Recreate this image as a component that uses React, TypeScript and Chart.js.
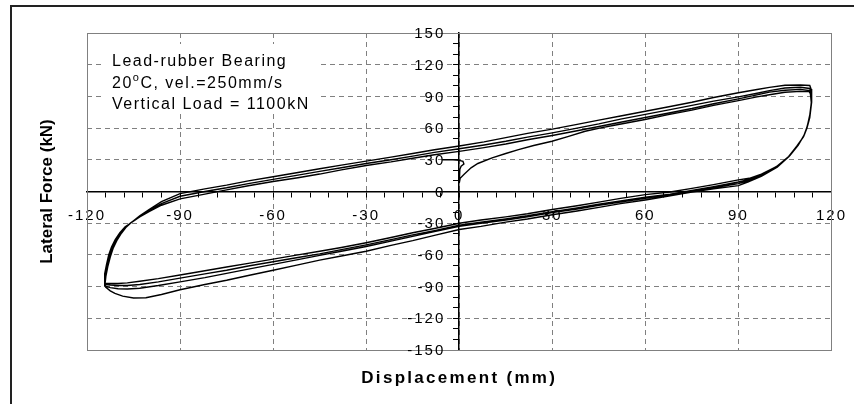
import React, { useEffect, useRef } from 'react';
import { Chart, registerables } from 'chart.js';

Chart.register(...registerables);

// ---------- Text ----------
const xAxisTitle = 'Displacement (mm)';
const yAxisTitle = 'Lateral Force (kN)';
const noteLine1 = 'Lead-rubber Bearing';
const noteLine2a = '20';
const noteLine2sup = 'o';
const noteLine2b = 'C, vel.=250mm/s';
const noteLine3 = 'Vertical Load = 1100kN';

// ---------- Axes ----------
const xMin = -120;
const xMax = 120;
const xMajor = 30;
const xMinor = 6;
const yMin = -150;
const yMax = 150;
const yMajor = 30;
const yMinor = 10;

// ---------- Data: [displacement mm, lateral force kN] ----------
const initialLoading: [number, number][] = [
  [-5.5, 30], [-2, 30], [0, 29.5], [1.2, 28.5], [1.5, 26], [0.6, 24], [0.2, 21], [0, 17], [0, 11], [0, 8],
  [0.3, 12.5], [1.5, 16], [3.8, 22.4], [6, 26.5], [10.6, 31.9], [15, 36], [19.1, 39.7], [24, 43.5],
  [29.9, 47.6], [35, 52], [40.6, 57], [46, 60.5], [51.3, 63.4], [59.9, 68.1], [67, 72.5], [75, 77],
  [82, 81.5], [90, 86], [96, 89.5], [100, 91.5], [105, 93.9], [110, 94.8], [112.8, 94.5],
];

const lower1: [number, number][] = [
  [113.2, 92.5], [113.5, 84], [112.9, 70], [112, 60], [111, 52], [109, 43], [106.3, 33], [102.5, 23],
  [97.5, 14.5], [93, 9], [90, 5.5], [82, 2.5], [75, -0.5], [68, -4], [60, -8], [52, -11.5], [45, -15],
  [38, -18.5], [30, -22], [22, -26], [15, -29], [7, -33], [0, -36], [-8, -41.5], [-15, -46.5], [-22, -51],
  [-30, -56.5], [-38, -61], [-45, -65], [-52, -69.5], [-60, -74.5], [-68, -79.5], [-75, -84], [-82, -88],
  [-90, -93], [-96, -97.5], [-101, -100.5], [-105, -100.8], [-108.5, -99], [-111, -96.5], [-112.5, -94],
  [-114, -90.5],
];

const upper1: [number, number][] = [
  [-114.2, -88], [-113.9, -80], [-113.3, -71], [-112.5, -62], [-111.6, -54], [-110.4, -46.5], [-108.9, -39.5],
  [-107.3, -33.5], [-105.8, -29.5], [-103, -23], [-100, -17], [-96, -9.5], [-90, -2], [-82, 2.5], [-75, 6],
  [-68, 10], [-60, 14], [-52, 18], [-45, 21.5], [-38, 25], [-30, 28.7], [-22, 32.5], [-15, 36], [-8, 39.5],
  [0, 43], [8, 47], [15, 51], [22, 55], [30, 59], [38, 63.5], [45, 67.5], [52, 71.5], [60, 76], [68, 80.5],
  [75, 84.5], [82, 89], [90, 93.4], [96, 96.5], [100, 98.5], [105, 100.6], [110, 100.8], [113, 100.3],
];

const lower2: [number, number][] = [
  [113.4, 97], [113.6, 88], [113.2, 75], [112.3, 63], [111.3, 54], [109.3, 44], [106.6, 34], [102.8, 24.2],
  [97.8, 15.8], [93.5, 10.5], [90, 7.5], [82, 3.5], [75, 0.5], [68, -3], [60, -6.5], [52, -10], [45, -13],
  [38, -16.5], [30, -20], [22, -24], [15, -27], [7, -30], [0, -33], [-8, -38], [-15, -42.5], [-22, -47],
  [-30, -52], [-38, -56.5], [-45, -60.5], [-52, -64.5], [-60, -69], [-68, -73.5], [-75, -77.5], [-82, -81.5],
  [-90, -85.5], [-97, -89], [-103, -91.5], [-107, -92.3], [-110, -92], [-112.5, -91], [-114.2, -89.5],
];

const upper2: [number, number][] = [
  [-114.3, -87.5], [-114, -79], [-113.5, -70], [-112.8, -61], [-111.9, -53], [-110.7, -46], [-109.2, -39.5],
  [-107.5, -33.5], [-105.9, -29.7], [-103, -23.5], [-100, -18], [-96, -11.5], [-90, -4.5], [-82, 0], [-75, 3.5],
  [-68, 7.5], [-60, 11.5], [-52, 15.5], [-45, 19], [-38, 22.5], [-30, 26.5], [-22, 30], [-15, 33.5], [-8, 37],
  [0, 40.5], [8, 44], [15, 47.5], [22, 51.5], [30, 55.5], [38, 60], [45, 64], [52, 68.5], [60, 73], [68, 77.5],
  [75, 81.5], [82, 85.5], [90, 89.6], [96, 93], [100, 95.5], [105, 98], [110, 98.6], [113, 97.5],
];

const lower3: [number, number][] = [
  [113.4, 94.5], [113.6, 84.5], [113, 70], [112.1, 60], [111.1, 52.5], [109, 43.2], [106.4, 33.6], [102.6, 24.3],
  [97.6, 16], [93.5, 11.5], [90, 9], [82, 4.5], [75, 1], [68, -2.5], [60, -5.5], [52, -9], [45, -12],
  [38, -15.5], [30, -19], [22, -23], [15, -26], [7, -29], [0, -32], [-8, -37], [-15, -41], [-22, -45.5],
  [-30, -50.5], [-38, -55], [-45, -59], [-52, -62.5], [-60, -66.5], [-68, -70.5], [-75, -74.5], [-82, -78],
  [-90, -82], [-97, -85.5], [-103, -88], [-107, -89], [-110, -89], [-112.5, -88.5], [-114.3, -88],
];

const upper3: [number, number][] = [
  [-114.4, -87], [-114.2, -78], [-113.7, -69], [-113, -60], [-112.1, -52.5], [-110.9, -45.5], [-109.4, -39],
  [-107.7, -33.5], [-106, -30], [-103, -24], [-100, -19], [-96, -13], [-90, -7], [-82, -2.5], [-75, 1.5],
  [-68, 5.5], [-60, 9.5], [-52, 13], [-45, 16.5], [-38, 20.5], [-30, 24.6], [-22, 28], [-15, 31.5], [-8, 34.8],
  [0, 38], [8, 41.5], [15, 45], [22, 49], [30, 53], [38, 57.5], [45, 61.5], [52, 65.5], [60, 70], [68, 74.5],
  [75, 78.5], [82, 83], [90, 87.7], [96, 91.5], [100, 94], [105, 95.8], [110, 96.6], [113, 95.5],
];

const lower4: [number, number][] = [
  [113.3, 93], [113.5, 84], [112.9, 69.5], [112, 59.5], [111, 52], [108.8, 42.8], [106.2, 33.2], [102.4, 23.8],
  [97.4, 16.5], [93.5, 12.5], [90, 11], [82, 6.5], [75, 3], [68, -0.5], [60, -3], [52, -6.5], [45, -10],
  [38, -13.5], [30, -17], [22, -21], [15, -24], [7, -27], [0, -30], [-8, -35], [-15, -39], [-22, -43.5],
  [-30, -48.5], [-38, -53], [-45, -56.5], [-52, -60], [-60, -64], [-68, -68], [-75, -71.5], [-82, -75],
  [-90, -79], [-97, -82.5], [-103, -85], [-107, -86.5], [-110, -87], [-112.5, -87], [-114.3, -87],
];

const FONT = '"Liberation Sans", Arial, Helvetica, sans-serif';

const isMultiple = (v: number, m: number) => Math.abs(Math.round(v) % m) === 0;

const decorPlugin = {
  id: 'decor',
  beforeDraw(chart: any) {
    chart.ctx.letterSpacing = '2px';
  },
  beforeDatasetsDraw(chart: any) {
    const { ctx, chartArea: a, scales } = chart;
    ctx.save();
    ctx.letterSpacing = '0px';
    ctx.setLineDash([]);
    ctx.strokeStyle = '#808080';
    ctx.lineWidth = 1;
    ctx.strokeRect(Math.round(a.left) + 0.5, Math.round(a.top) + 0.5, Math.round(a.right - a.left), Math.round(a.bottom - a.top));

    // y-axis tick labels, from the library's own y ticks, placed left of the centred axis
    const ys = scales.y;
    const axisX = scales.x.getPixelForValue(0);
    ctx.fillStyle = '#000';
    ctx.font = `15px ${FONT}`;
    ctx.letterSpacing = '2px';
    ctx.textAlign = 'right';
    ctx.textBaseline = 'middle';
    ys.ticks.forEach((t: any) => {
      if (!isMultiple(t.value, yMajor)) return;
      ctx.fillText(String(Math.round(t.value)), axisX - 14, ys.getPixelForValue(t.value) + 1);
    });

    // annotation box
    const bx = a.left + 15;
    const by = a.top + 11;
    ctx.fillStyle = '#fff';
    ctx.fillRect(bx, by, 216, 68);
    ctx.fillStyle = '#000';
    ctx.textAlign = 'left';
    ctx.textBaseline = 'alphabetic';
    ctx.font = `16px ${FONT}`;
    ctx.letterSpacing = '1.5px';
    const tx = bx + 10;
    ctx.fillText(noteLine1, tx, by + 22);
    ctx.fillText(noteLine2a, tx, by + 44);
    const w = ctx.measureText(noteLine2a).width;
    ctx.font = `11px ${FONT}`;
    ctx.fillText(noteLine2sup, tx + w, by + 37);
    const w2 = ctx.measureText(noteLine2sup).width;
    ctx.font = `16px ${FONT}`;
    ctx.fillText(noteLine2b, tx + w + w2, by + 44);
    ctx.fillText(noteLine3, tx, by + 65);
    ctx.restore();
  },
  afterDraw(chart: any) {
    const { ctx, chartArea: a } = chart;
    ctx.save();
    ctx.setLineDash([]);
    // outer frame
    ctx.strokeStyle = '#222';
    ctx.lineWidth = 2;
    ctx.beginPath();
    ctx.moveTo(11, 404);
    ctx.lineTo(11, 6);
    ctx.lineTo(854, 6);
    ctx.stroke();
    // axis titles
    ctx.fillStyle = '#000';
    ctx.font = `bold 17px ${FONT}`;
    ctx.textAlign = 'center';
    ctx.textBaseline = 'middle';
    ctx.letterSpacing = '2.3px';
    ctx.fillText(xAxisTitle, (a.left + a.right) / 2, a.bottom + 28);
    ctx.letterSpacing = '0px';
    ctx.translate(47, (a.top + a.bottom) / 2);
    ctx.rotate(-Math.PI / 2);
    ctx.fillText(yAxisTitle, 0, 0);
    ctx.restore();
    chart.ctx.letterSpacing = '0px';
  },
};

export default function App() {
  const ref = useRef<HTMLCanvasElement>(null);
  useEffect(() => {
    if (!ref.current) return;
    Chart.defaults.font.family = FONT;
    const path = [
      ...initialLoading, ...lower1, ...upper1, ...lower2, ...upper2, ...lower3, ...upper3, ...lower4,
    ].map(([x, y]) => ({ x, y }));
    const chart = new Chart(ref.current, {
      type: 'scatter',
      data: {
        datasets: [
          {
            data: path,
            showLine: true,
            borderColor: '#000',
            borderWidth: 1.4,
            pointRadius: 0,
            tension: 0,
            fill: false,
          },
        ],
      },
      options: {
        animation: false,
        responsive: false,
        maintainAspectRatio: false,
        layout: { padding: { left: 87, right: 21, top: 33, bottom: 54 } },
        plugins: { legend: { display: false }, tooltip: { enabled: false }, title: { display: false } },
        scales: {
          x: {
            type: 'linear',
            min: xMin,
            max: xMax,
            position: { y: 0 } as any,
            afterFit: (s: any) => { s.height = 0; },
            ticks: {
              stepSize: xMinor,
              maxTicksLimit: 100,
              autoSkip: false,
              maxRotation: 0,
              minRotation: 0,
              padding: 10,
              color: '#000',
              font: { size: 15 },
              callback: (v: any) => (isMultiple(Number(v), xMajor) ? String(Math.round(Number(v))) : ''),
            },
            grid: {
              color: (c: any) => {
                const v = c.tick ? c.tick.value : NaN;
                return isMultiple(v, xMajor) && v !== xMin && v !== xMax ? '#808080' : 'rgba(0,0,0,0)';
              },
              lineWidth: 1,
              tickLength: 5,
              tickColor: '#000',
              tickWidth: 1,
            },
            border: { display: true, color: '#000', width: 1.5, dash: [5, 4] },
          },
          y: {
            type: 'linear',
            min: yMin,
            max: yMax,
            position: { x: 0 } as any,
            afterFit: (s: any) => { s.width = 0; },
            ticks: {
              stepSize: yMinor,
              maxTicksLimit: 100,
              autoSkip: false,
              display: false,
            },
            grid: {
              color: (c: any) => {
                const v = c.tick ? c.tick.value : NaN;
                return isMultiple(v, yMajor) && v !== yMin && v !== yMax ? '#808080' : 'rgba(0,0,0,0)';
              },
              lineWidth: 1,
              tickLength: 5,
              tickColor: '#000',
              tickWidth: 1,
            },
            border: { display: true, color: '#000', width: 1.5, dash: [5, 4] },
          },
        },
      },
      plugins: [decorPlugin],
    });
    return () => chart.destroy();
  }, []);

  return (
    <div style={{ position: 'fixed', left: 0, top: 0, width: 854, height: 404, background: '#fff' }}>
      <canvas ref={ref} width={854} height={404} style={{ display: 'block' }} />
    </div>
  );
}
